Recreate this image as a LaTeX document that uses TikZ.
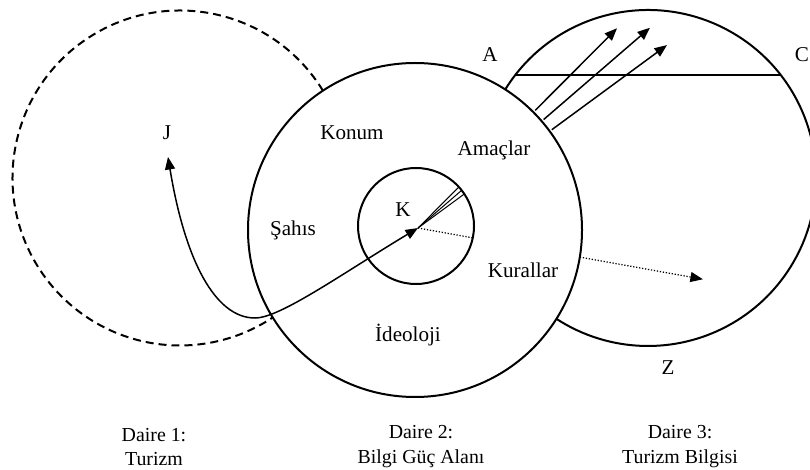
\documentclass[tikz,border=0pt]{standalone}
\usepackage{fontspec}
\setmainfont{Liberation Serif}
\usetikzlibrary{arrows.meta,calc}

\tikzset{
  daire/.style={line width=0.04cm, color=black},
  kesik/.style={daire, dash pattern=on 0.16cm off 0.1cm},
  ok/.style={line width=0.03cm, -{Triangle[length=0.25cm,width=0.2cm]}},
  ciftok/.style={line width=0.03cm,
    {Triangle[length=0.25cm,width=0.2cm]}-{Triangle[length=0.25cm,width=0.2cm]}},
  ince/.style={line width=0.02cm},
  noktali/.style={line width=0.025cm, densely dotted},
  etiket/.style={color=black, inner sep=0cm, font=\fontsize{12}{14}\selectfont},
  baslik/.style={color=black, inner sep=0cm, align=center,
    font=\fontsize{11.3}{14.2}\selectfont}
}

\begin{document}
\begin{tikzpicture}

\clip (0, 0) rectangle (16.2, 9.38);

\coordinate (c1) at (3.60, 5.82);
\coordinate (c2) at (8.30, 4.78);
\coordinate (c3) at (12.96, 5.82);
\coordinate (ck) at (8.32, 4.86);
\coordinate (kc) at (8.36, 4.82);

\draw[kesik] ($(c1)+(31.4:3.35)$) arc[start angle=31.4, end angle=303.6, radius=3.35];
\draw[daire] (c2) circle (3.34);
\draw[daire] (ck) circle (1.16);
\draw[daire] ($(c3)+(148.2:3.36)$) arc[start angle=148.2, end angle=-123, radius=3.36];
\draw[daire] (10.305, 7.88) -- (15.615, 7.88);

\coordinate (jt) at (3.36, 6.24);
\coordinate (jb) at (5.10, 3.02);
\draw[ciftok] (jt) .. controls (3.70, 4.18) and (4.30, 3.02) .. (jb)
  .. controls (5.60, 3.02) and (6.80, 3.88) .. (kc);

\foreach \n/\a/\r in {1/45.1/5.64, 2/40.8/6.13, 3/36.3/6.18} {
  \coordinate (f\n) at ($(kc)+(\a:1.14)$);
  \coordinate (s\n) at ($(kc)+(\a:3.32)$);
  \coordinate (t\n) at ($(kc)+(\a:\r)$);
  \draw[ince] (kc) -- (f\n);
  \draw[ok] (s\n) -- (t\n);
}

\coordinate (d1) at ($(kc)+(-10.2:1.12)$);
\coordinate (d2) at ($(kc)+(-10.2:3.29)$);
\coordinate (d3) at ($(kc)+(-10.2:5.79)$);
\draw[noktali] (kc) -- (d1);
\draw[noktali, -{Triangle[length=0.25cm,width=0.2cm]}] (d2) -- (d3);

\node[etiket] (j) at (3.34, 6.72) {J};
\node[etiket] (konum) at (7.04, 6.72) {Konum};
\node[etiket] (amac) at (9.88, 6.38) {Amaçlar};
\node[etiket] (a) at (9.80, 8.28) {A};
\node[etiket] (c) at (16.04, 8.28) {C};
\node[etiket] (sahis) at (5.86, 4.78) {Şahıs};
\node[etiket] (k) at (8.06, 5.18) {K};
\node[etiket] (kural) at (10.46, 3.98) {Kurallar};
\node[etiket] (ideo) at (8.16, 2.68) {İdeoloji};
\node[etiket] (z) at (13.36, 2.02) {Z};

\node[baslik] (daire1) at (3.08, 0.44) {Daire 1:\\Turizm};
\node[baslik] (daire2) at (8.42, 0.44) {Daire 2:\\Bilgi Güç Alanı};
\node[baslik] (daire3) at (13.60, 0.44) {Daire 3:\\Turizm Bilgisi};

\end{tikzpicture}
\end{document}
